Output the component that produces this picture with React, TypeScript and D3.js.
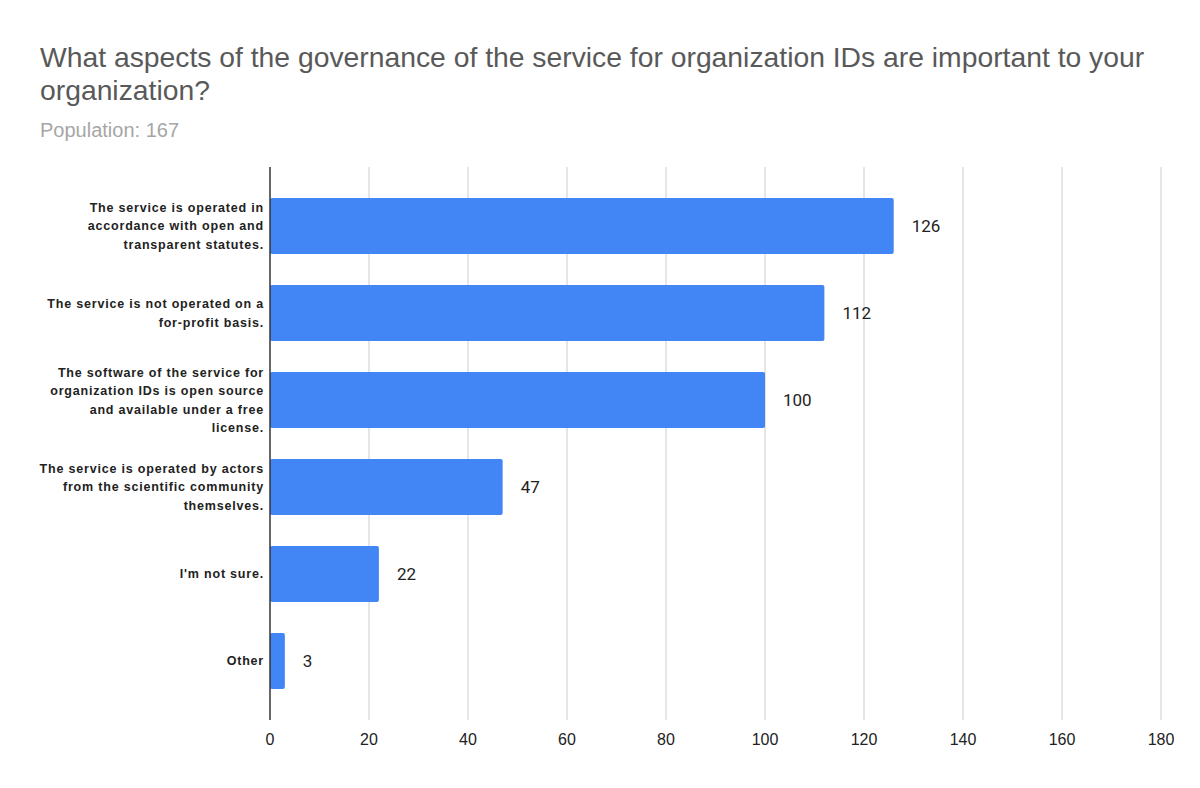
import React, { useRef, useEffect } from "react";
import * as d3 from "d3";

// chart values
const title = [
  "What aspects of the governance of the service for organization IDs are important to your",
  "organization?",
];
const subtitle = "Population: 167";

const categories = [
  "The service is operated in\naccordance with open and\ntransparent statutes.",
  "The service is not operated on a\nfor-profit basis.",
  "The software of the service for\norganization IDs is open source\nand available under a free\nlicense.",
  "The service is operated by actors\nfrom the scientific community\nthemselves.",
  "I'm not sure.",
  "Other",
];
const counts = [126, 112, 100, 47, 22, 3];
const xTicks = [0, 20, 40, 60, 80, 100, 120, 140, 160, 180];

const GovernanceChart: React.FC = () => {
  const chartRef = useRef<SVGSVGElement | null>(null);

  useEffect(() => {
    if (!chartRef.current) return;
    document.body.style.margin = "0";

    const width = 1200;
    const height = 788;
    const margin = { top: 167, right: 40, bottom: 68, left: 270 };

    const svg = d3.select(chartRef.current);
    svg.selectAll("*").remove();
    svg.attr("width", width).attr("height", height).style("display", "block");

    svg
      .append("rect")
      .attr("width", width)
      .attr("height", height)
      .attr("fill", "#ffffff");

    // Title + subtitle
    svg
      .append("g")
      .selectAll("text")
      .data(title)
      .enter()
      .append("text")
      .attr("x", 40)
      .attr("y", (d, i) => 67 + i * 33)
      .style("font-family", "'Liberation Sans', Arial, sans-serif")
      .style("font-size", "28.3px")
      .style("fill", "#595959")
      .text((d) => d);

    svg
      .append("text")
      .attr("x", 40)
      .attr("y", 137)
      .style("font-family", "'Liberation Sans', Arial, sans-serif")
      .style("font-size", "20px")
      .style("fill", "#a6a6a6")
      .text(subtitle);

    const x = d3
      .scaleLinear()
      .domain([0, 180])
      .range([margin.left, 1161]);

    const y = d3
      .scaleBand()
      .domain(categories)
      .range([margin.top, height - margin.bottom])
      .padding(0.356);

    // Gridlines
    svg
      .append("g")
      .selectAll("line")
      .data(xTicks.filter((t) => t !== 0))
      .enter()
      .append("line")
      .attr("x1", (d) => x(d))
      .attr("x2", (d) => x(d))
      .attr("y1", margin.top)
      .attr("y2", height - margin.bottom)
      .attr("stroke", "#cccccc")
      .attr("stroke-width", 1);

    // Bars
    svg
      .append("g")
      .selectAll("rect")
      .data(counts)
      .enter()
      .append("rect")
      .attr("x", x(0))
      .attr("y", (d, i) => y(categories[i])!)
      .attr("width", (d) => x(d) - x(0))
      .attr("height", y.bandwidth())
      .attr("rx", 2)
      .attr("fill", "#4285f4");

    // Zero axis line
    svg
      .append("line")
      .attr("x1", x(0))
      .attr("x2", x(0))
      .attr("y1", margin.top)
      .attr("y2", height - margin.bottom)
      .attr("stroke", "#333333")
      .attr("stroke-width", 1.5);

    // Value labels
    svg
      .append("g")
      .selectAll("text")
      .data(counts)
      .enter()
      .append("text")
      .attr("x", (d) => x(d) + 18)
      .attr("y", (d, i) => y(categories[i])! + y.bandwidth() / 2)
      .attr("dy", "0.35em")
      .style("font-family", "Roboto, 'Liberation Sans', Arial, sans-serif")
      .style("font-size", "17px")
      .style("fill", "#222222")
      .text((d) => d);

    // X tick labels
    svg
      .append("g")
      .selectAll("text")
      .data(xTicks)
      .enter()
      .append("text")
      .attr("x", (d) => x(d))
      .attr("y", 745)
      .attr("text-anchor", "middle")
      .style("font-family", "'Liberation Sans', Arial, sans-serif")
      .style("font-size", "16px")
      .style("fill", "#222222")
      .text((d) => d);

    // Category labels (multi-line)
    const lineH = 18.5;
    const labels = svg
      .append("g")
      .selectAll("text")
      .data(categories)
      .enter()
      .append("text")
      .attr("text-anchor", "end")
      .style("font-family", "'Liberation Sans', Arial, sans-serif")
      .style("font-size", "12.5px")
      .style("font-weight", "bold")
      .style("letter-spacing", "0.8px")
      .style("fill", "#222222");

    labels.each(function (d) {
      const lines = d.split("\n");
      const cy = y(d)! + y.bandwidth() / 2;
      const start = cy - ((lines.length - 1) * lineH) / 2;
      d3.select(this)
        .selectAll("tspan")
        .data(lines)
        .enter()
        .append("tspan")
        .attr("x", 264)
        .attr("y", (l, i) => start + i * lineH)
        .attr("dy", "0.35em")
        .text((l) => l);
    });
  }, []);

  return <svg ref={chartRef}></svg>;
};

export default function App() {
  return <GovernanceChart />;
}
